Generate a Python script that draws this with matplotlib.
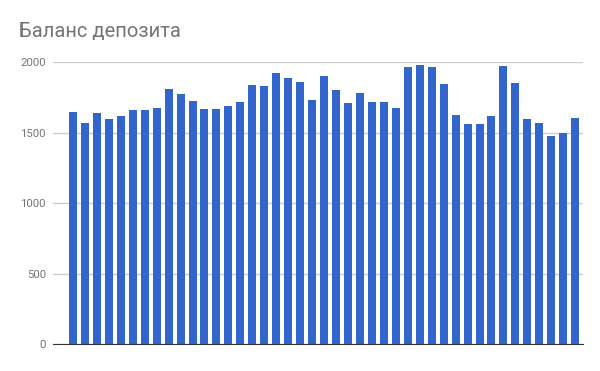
import numpy as np
import matplotlib.pyplot as plt

plt.rcParams['font.family'] = ['Roboto', 'DejaVu Sans']

# values
balance = [1649, 1564, 1635, 1599, 1620, 1663, 1663, 1677, 1811, 1776,
           1726, 1670, 1670, 1691, 1719, 1840, 1833, 1925, 1889, 1861,
           1734, 1903, 1804, 1712, 1783, 1719, 1719, 1677, 1967, 1981,
           1967, 1847, 1627, 1557, 1557, 1620, 1974, 1854, 1599, 1571,
           1472, 1500, 1606]
yticks = [0, 500, 1000, 1500, 2000]
title = "Баланс депозита"

fig = plt.figure(figsize=(6, 3.71), dpi=100)
ax = fig.add_axes([0.0883, 0.0728, 0.8833, 0.760])

x = np.arange(len(balance))
ax.bar(x, balance, width=0.67, color="#3366cc", zorder=3)

ax.set_xlim(-1.67, len(balance) - 0.35)
ax.set_ylim(0, 2000)
ax.set_yticks(yticks)
ax.set_yticklabels([str(v) for v in yticks], fontsize=8.2, color="#757575")
ax.set_xticks([])
ax.tick_params(axis="y", length=0, pad=5)
ax.grid(axis="y", color="#cccccc", linewidth=1, zorder=0)
for side in ["top", "right", "left"]:
    ax.spines[side].set_visible(False)
ax.spines["bottom"].set_color("#333333")
ax.spines["bottom"].set_zorder(4)

fig.text(19 / 600, 1 - 32 / 371, title, fontsize=14.5, color="#757575",
         ha="left", va="center")

fig.savefig("out.png", dpi=100)
